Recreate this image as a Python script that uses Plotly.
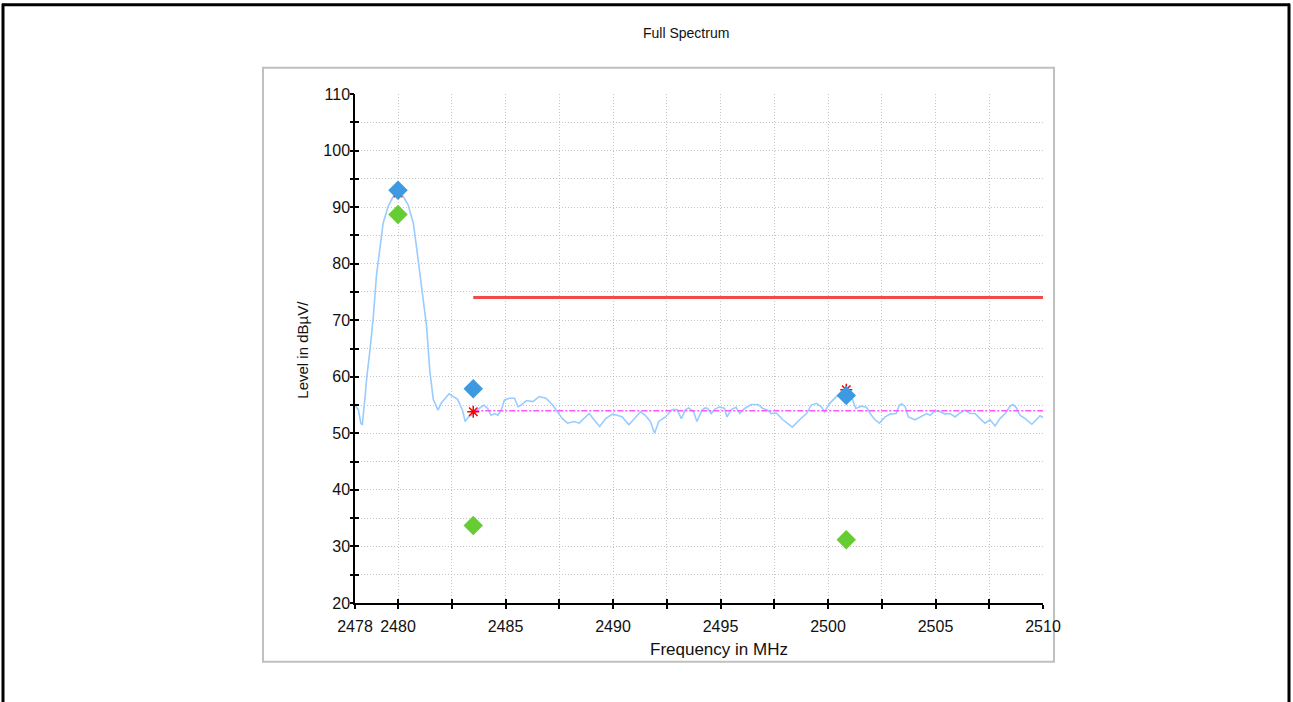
import plotly.graph_objects as go

# ---------------- data ----------------
freq = [2478.0, 2478.16, 2478.27, 2478.34, 2478.47, 2478.55, 2478.69, 2478.85, 2479.0, 2479.16,
        2479.31, 2479.54, 2479.78, 2480.0, 2480.24, 2480.47, 2480.71, 2480.86, 2481.02, 2481.17,
        2481.33, 2481.48, 2481.64, 2481.86, 2482.02, 2482.375, 2482.77, 2483.0, 2483.125, 2483.3,
        2483.55, 2483.78, 2484.0, 2484.17, 2484.33, 2484.5, 2484.64, 2484.8, 2484.95, 2485.19,
        2485.42, 2485.58, 2485.73, 2485.97, 2486.27, 2486.57, 2486.88, 2487.19, 2487.42, 2487.65,
        2487.89, 2488.19, 2488.43, 2488.66, 2488.89, 2489.12, 2489.38, 2489.66, 2489.97, 2490.2,
        2490.43, 2490.74, 2491.05, 2491.28, 2491.5, 2491.74, 2491.93, 2492.13, 2492.44, 2492.75,
        2492.98, 2493.18, 2493.36, 2493.52, 2493.75, 2493.9, 2494.14, 2494.29, 2494.41, 2494.57,
        2494.72, 2494.95, 2495.19, 2495.3, 2495.5, 2495.73, 2495.89, 2496.12, 2496.43, 2496.74,
        2496.97, 2497.2, 2497.36, 2497.6, 2497.9, 2498.34, 2498.68, 2499.0, 2499.22, 2499.46,
        2499.69, 2499.84, 2500.08, 2500.39, 2500.62, 2500.85, 2501.09, 2501.29, 2501.55, 2501.79,
        2502.02, 2502.19, 2502.39, 2502.66, 2502.89, 2503.17, 2503.32, 2503.43, 2503.59, 2503.74,
        2504.05, 2504.28, 2504.59, 2504.75, 2504.98, 2505.21, 2505.45, 2505.68, 2505.91, 2506.14,
        2506.38, 2506.61, 2506.84, 2507.07, 2507.3, 2507.54, 2507.77, 2508.0, 2508.24, 2508.47,
        2508.6, 2508.75, 2508.93, 2509.17, 2509.48, 2509.71, 2509.86, 2510.0]
level = [55.0, 54.1, 51.8, 51.5, 56.5, 60.0, 64.5, 70.5, 78.0, 83.0,
         87.2, 90.1, 91.9, 92.5, 91.9, 90.4, 87.2, 83.0, 78.3, 73.6,
         68.9, 61.0, 56.0, 54.1, 55.4, 57.0, 56.0, 54.1, 52.1, 53.0,
         53.5, 54.4, 55.0, 54.4, 53.2, 53.5, 53.2, 54.1, 55.9, 56.2,
         56.2, 54.7, 55.0, 55.8, 55.6, 56.5, 56.2, 55.0, 53.8, 52.6,
         51.8, 52.1, 51.8, 52.6, 53.5, 52.4, 51.2, 52.6, 53.4, 53.2,
         52.9, 51.5, 52.9, 53.8, 53.2, 52.1, 50.0, 52.1, 52.9, 54.2,
         54.2, 52.6, 54.1, 54.5, 53.8, 52.1, 54.1, 54.5, 54.4, 53.5,
         54.2, 54.7, 54.4, 52.9, 54.2, 54.6, 53.5, 54.4, 55.1, 55.1,
         54.4, 54.1, 53.5, 53.6, 52.4, 51.1, 52.4, 53.5, 55.0, 55.3,
         54.7, 53.8, 55.3, 56.5, 56.8, 57.0, 56.5, 54.4, 54.8, 54.6,
         53.2, 52.4, 51.8, 52.9, 53.4, 53.5, 55.0, 55.2, 54.7, 52.9,
         52.4, 52.9, 53.5, 53.2, 54.0, 53.8, 53.4, 53.5, 52.9, 53.6,
         54.1, 53.5, 53.5, 52.6, 51.8, 52.4, 51.3, 52.6, 53.5, 54.8,
         55.1, 54.6, 53.2, 52.6, 51.6, 52.5, 53.1, 52.8]

peak_limit_freq = [2483.5, 2510.0]
peak_limit_level = [74.0, 74.0]
avg_limit_freq = [2483.5, 2510.0]
avg_limit_level = [54.0, 54.0]

marker_freq = [2480.0, 2483.5, 2500.85]
peak_level = [93.0, 57.9, 56.7]
avg_level = [88.7, 33.7, 31.2]
final_level = [92.5, 53.8, 57.7]

x_tickvals = [2478, 2480, 2482.5, 2485, 2487.5, 2490, 2492.5, 2495, 2497.5, 2500, 2502.5, 2505, 2507.5, 2510]
x_ticktext = ["2478", "2480", "", "2485", "", "2490", "", "2495", "", "2500", "", "2505", "", "2510"]
y_tickvals = [20, 25, 30, 35, 40, 45, 50, 55, 60, 65, 70, 75, 80, 85, 90, 95, 100, 105, 110]
y_ticktext = ["20", "", "30", "", "40", "", "50", "", "60", "", "70", "", "80", "", "90", "", "100", "", "110"]

title_text = "Full Spectrum"
x_title = "Frequency in MHz"
y_title = "Level in dBµV/"

# ---------------- layout geometry ----------------
W, H = 1293, 702
L, R, T, B = 355, 1043, 94.3, 603.3


def px_x(X):
    return (X - L) / (R - L)


def px_y(Y):
    return (B - Y) / (B - T)


FONT = "Liberation Sans, Arial, sans-serif"
GRID = "#c4c4c4"

fig = go.Figure()

fig.add_trace(go.Scatter(x=freq, y=level, mode="lines",
                         line=dict(color="#99CCFF", width=1.6), hoverinfo="skip"))

fig.add_trace(go.Scatter(x=peak_limit_freq, y=peak_limit_level, mode="lines", xaxis="x2", yaxis="y2",
                         line=dict(color="#F04A4A", width=3)))
fig.add_trace(go.Scatter(x=avg_limit_freq, y=avg_limit_level, mode="lines", xaxis="x2", yaxis="y2",
                         line=dict(color="#FF55FF", width=1.6, dash="6px,2px,2px,2px")))
fig.add_trace(go.Scatter(x=marker_freq, y=final_level, mode="markers", xaxis="x2", yaxis="y2",
                         marker=dict(symbol="asterisk", size=10, line=dict(color="#FF0000", width=1.5))))
fig.add_trace(go.Scatter(x=marker_freq, y=peak_level, mode="markers", xaxis="x2", yaxis="y2",
                         marker=dict(symbol="diamond", size=15, color="#3D9AE0", line=dict(width=0))))
fig.add_trace(go.Scatter(x=marker_freq, y=avg_level, mode="markers", xaxis="x2", yaxis="y2",
                         marker=dict(symbol="diamond", size=15, color="#66CC33", line=dict(width=0))))

tickfont = dict(family=FONT, size=16, color="#111")

fig.update_layout(
    width=W, height=H,
    margin=dict(l=L, r=W - R, t=T, b=H - B, pad=0),
    paper_bgcolor="white", plot_bgcolor="white",
    showlegend=False,
    xaxis=dict(range=[2478, 2510], tickmode="array", tickvals=x_tickvals, ticktext=x_ticktext,
               showgrid=True, gridcolor=GRID, griddash="1px,2px", gridwidth=1, zeroline=False,
               showline=True, linecolor="black", linewidth=1.5, ticks="outside",
               tickcolor="black", tickwidth=1.5, ticklen=4, tickfont=tickfont, ticklabelstandoff=4),
    yaxis=dict(range=[20, 110], tickmode="array", tickvals=y_tickvals, ticktext=y_ticktext,
               showgrid=True, gridcolor=GRID, griddash="1px,2px", gridwidth=1, zeroline=False,
               showline=True, linecolor="black", linewidth=1.5, ticks="inside",
               tickcolor="black", tickwidth=1.5, ticklen=4, tickfont=tickfont),
    xaxis2=dict(range=[2478, 2510], overlaying="x", anchor="y2", side="bottom", tickmode="array",
                tickvals=x_tickvals, showticklabels=False, showgrid=False, showline=False,
                ticks="inside", zeroline=False, tickcolor="black", tickwidth=1.5, ticklen=4),
    yaxis2=dict(range=[20, 110], overlaying="y", anchor="x2", side="left", tickmode="array",
                tickvals=y_tickvals, showticklabels=False, showgrid=False, showline=False,
                ticks="outside", zeroline=False, tickcolor="black", tickwidth=1.5, ticklen=4),
)

shapes = [
    # outer black frame
    dict(type="line", xref="paper", yref="paper", x0=px_x(3), x1=px_x(3), y0=px_y(4), y1=px_y(710),
         line=dict(color="black", width=3)),
    dict(type="line", xref="paper", yref="paper", x0=px_x(2), x1=px_x(1290), y0=px_y(5), y1=px_y(5),
         line=dict(color="black", width=3)),
    dict(type="line", xref="paper", yref="paper", x0=px_x(1289), x1=px_x(1289), y0=px_y(4), y1=px_y(710),
         line=dict(color="black", width=3)),
    # inner gray box
    dict(type="rect", xref="paper", yref="paper", x0=px_x(263), x1=px_x(1054), y0=px_y(68), y1=px_y(662),
         line=dict(color="#c0c0c0", width=2), layer="below"),
]
fig.update_layout(shapes=shapes)

annotations = [
    dict(text=title_text, x=px_x(686), y=px_y(33), xref="paper", yref="paper", showarrow=False,
         xanchor="center", yanchor="middle", font=dict(family=FONT, size=14, color="#111")),
    dict(text=x_title, x=px_x(719), y=px_y(650), xref="paper", yref="paper", showarrow=False,
         xanchor="center", yanchor="middle", font=dict(family=FONT, size=17, color="#111")),
    dict(text=y_title, x=px_x(303), y=px_y(350), xref="paper", yref="paper", showarrow=False,
         xanchor="center", yanchor="middle", textangle=-90, font=dict(family=FONT, size=15, color="#111")),
]
fig.update_layout(annotations=annotations)

fig.write_html("out.html", config={"displayModeBar": False},
               post_script="document.body.style.margin='0';")
